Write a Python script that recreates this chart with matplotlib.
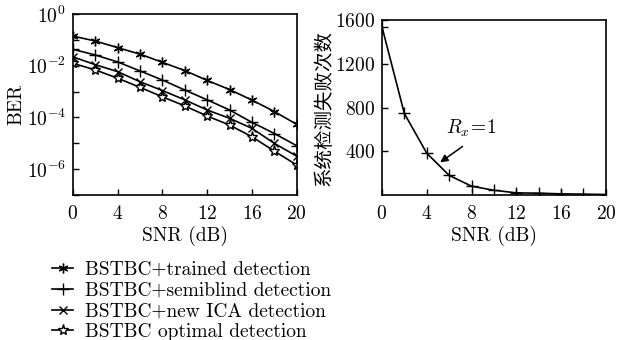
import numpy as np
import matplotlib
matplotlib.use('Agg')
import matplotlib.pyplot as plt
from matplotlib.ticker import FixedLocator, FuncFormatter

plt.rcParams['font.family'] = ['cmr10', 'DejaVu Serif']
plt.rcParams['mathtext.fontset'] = 'cm'
plt.rcParams['axes.formatter.use_mathtext'] = True
plt.rcParams['font.size'] = 14

# left panel: BER vs SNR
snr = [0, 2, 4, 6, 8, 10, 12, 14, 16, 18, 20]
ber_trained = [0.14, 0.09, 0.05, 0.028, 0.0135, 0.0065, 0.0027, 0.0012, 4.7e-4, 1.7e-4, 5.4e-5]
ber_semiblind = [0.043, 0.026, 0.014, 0.0063, 0.0028, 0.00115, 4.8e-4, 1.95e-4, 6.5e-5, 2.4e-5, 8.1e-6]
ber_ica = [0.022, 0.011, 0.0059, 0.0024, 0.0011, 4.8e-4, 1.95e-4, 9.3e-5, 3.8e-5, 1.0e-5, 3.2e-6]
ber_optimal = [0.0124, 0.0069, 0.0033, 0.00146, 6.3e-4, 2.8e-4, 1.14e-4, 5.1e-5, 1.8e-5, 5.0e-6, 1.46e-6]
labels = ['BSTBC+trained detection', 'BSTBC+semiblind detection',
          'BSTBC+new ICA detection', 'BSTBC optimal detection']

# right panel: detection failures vs SNR
snr2 = [0, 2, 4, 6, 8, 10, 12, 14, 16, 18, 20]
fails = [1540, 747, 384, 181, 82, 45, 21, 18, 12, 9, 6]

fig = plt.figure(figsize=(6.17, 3.40), dpi=100)
ax1 = fig.add_axes([0.118, 0.426, 0.363, 0.533])
ax2 = fig.add_axes([0.619, 0.426, 0.363, 0.515])

asterisk = (6, 2, 0)
ax1.semilogy(snr, ber_trained, 'k-', marker=asterisk, ms=7, mew=1, lw=1.2, label=labels[0])
ax1.semilogy(snr, ber_semiblind, 'k-', marker='+', ms=8, mew=1, lw=1.2, label=labels[1])
ax1.semilogy(snr, ber_ica, 'k-', marker='x', ms=6, mew=1, lw=1.2, label=labels[2])
ax1.semilogy(snr, ber_optimal, 'k-', marker='*', ms=8, mew=1, mfc='white', lw=1.2, label=labels[3])

ax1.set_xlim(0, 20)
ax1.set_ylim(1e-7, 1)
ax1.set_xticks([0, 4, 8, 12, 16, 20])
ax1.yaxis.set_major_locator(FixedLocator([10.0**k for k in range(-7, 1)]))
ax1.yaxis.set_minor_locator(FixedLocator([]))
ax1.yaxis.set_major_formatter(FuncFormatter(
    lambda v, p: r'$10^{%d}$' % round(np.log10(v)) if round(np.log10(v)) % 2 == 0 else ''))
ax1.set_xlabel('SNR (dB)', labelpad=2)
ax1.set_ylabel('BER', labelpad=1)

ax2.plot(snr2, fails, 'k-', marker='+', ms=8, mew=1, lw=1.2)
ax2.set_xlim(0, 20)
ax2.set_ylim(0, 1600)
ax2.set_xticks([0, 4, 8, 12, 16, 20])
ax2.set_yticks([400, 800, 1200, 1600])
ax2.set_xlabel('SNR (dB)', labelpad=2)
ax2.set_ylabel('系统检测失败次数', family=['Noto Sans CJK SC'], fontsize=14,
               fontweight='light', labelpad=0)
ax2.annotate('', xy=(5.0, 285), xytext=(7.4, 460),
             arrowprops=dict(arrowstyle='-|>', color='k', lw=1.1, mutation_scale=11))
ax2.text(8.0, 510, r'$R_x\!=\!1$', ha='center', va='bottom', fontsize=14)

for ax in (ax1, ax2):
    ax.tick_params(direction='in', length=4, width=1, pad=5)
    ax.tick_params(axis='x', pad=7)
    for s in ax.spines.values():
        s.set_linewidth(1.2)

h, l = ax1.get_legend_handles_labels()
fig.legend(h, l, loc='upper left', bbox_to_anchor=(0.084, 0.232), frameon=False,
           handlelength=1.1, handletextpad=0.6, labelspacing=0.14, borderpad=0,
           borderaxespad=0, fontsize=14)

fig.savefig('out.png', dpi=100)
